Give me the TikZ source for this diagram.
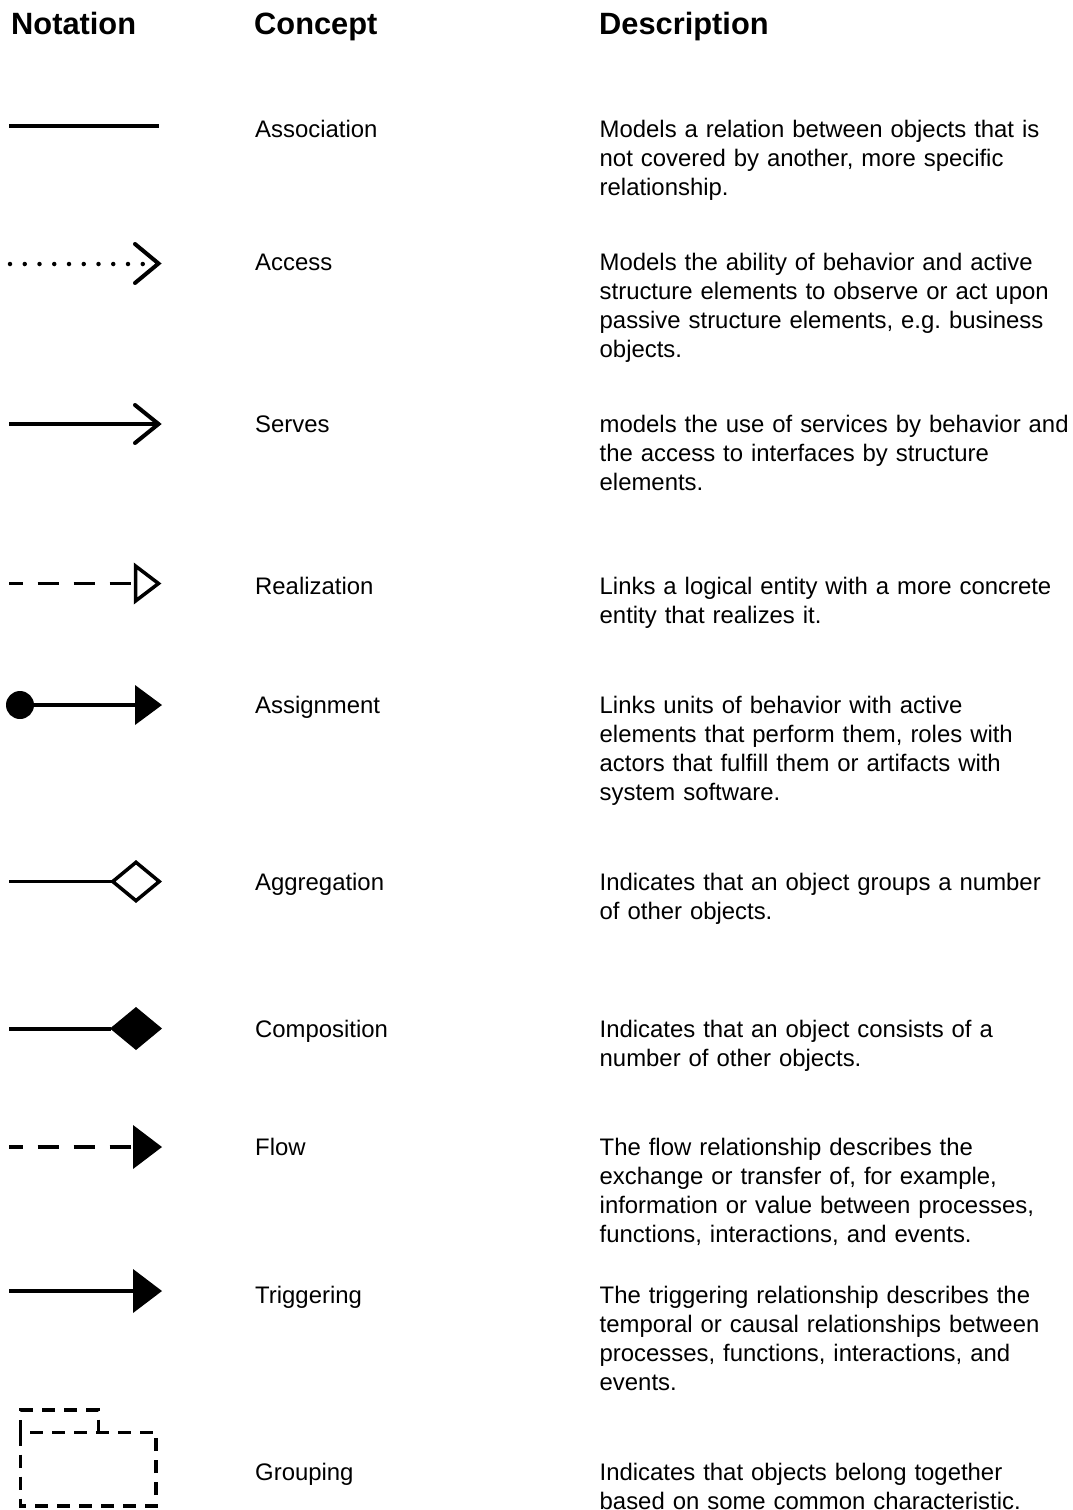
\documentclass[tikz,border=0pt]{standalone}
\usepackage{fontspec}
\setmainfont{Liberation Sans}
\frenchspacing
\begin{document}
\begin{tikzpicture}[x=1pt,y=-1pt,
  head/.style={font=\fontsize{30.8}{36}\selectfont\bfseries, anchor=base west, inner sep=0pt},
  concept/.style={font=\fontsize{23.9}{29}\selectfont, anchor=base west, inner sep=0pt},
  desc/.style={font=\fontsize{23.9}{29}\selectfont\frenchspacing, anchor=base west, inner sep=0pt,
               text width=480pt, align=left},
  rel/.style={line width=3.5pt},
  dotline/.style={line width=4.5pt, line cap=round, dash pattern=on 0pt off 14.75pt},
  dashline/.style={line width=3.5pt, dash pattern=on 21pt off 15pt, dash phase=7.6pt},
  chevron/.style={line width=4pt, line cap=round, line join=miter},
  openhead/.style={line width=3.5pt, line join=miter, fill=white},
  solidhead/.style={fill=black},
  groupline/.style={line width=3.5pt, dash pattern=on 13pt off 9pt}
]
\path[use as bounding box] (0,0) rectangle (1072,1510);

% column headings
\node[head] (hnot) at (11,34.3) {Notation};
\node[head] (hcon) at (254,34.3) {Concept};
\node[head] (hdes) at (599,34.3) {Description};

% ---- Association
\coordinate (as1) at (9,126);
\coordinate (as2) at (159,126);
\draw[rel] (as1) -- (as2);
\node[concept] (cas) at (255,137) {Association};
\node[desc] (das) at (599.5,137) {Models a relation between objects that is\\not covered by another, more specific\\relationship.};

% ---- Access
\coordinate (ac1) at (10,264);
\coordinate (ac2) at (146,264);
\coordinate (actip) at (158.5,263.5);
\draw[dotline] (ac1) -- (ac2);
\draw[chevron] (135,244) -- (actip) -- (135,283);
\node[concept] (cac) at (255,270) {Access};
\node[desc] (dac) at (599.5,270) {Models the ability of behavior and active\\structure elements to observe or act upon\\passive structure elements, e.g. business\\objects.};

% ---- Serves
\coordinate (se1) at (9,424);
\coordinate (setip) at (158.5,424);
\draw[rel] (se1) -- (setip);
\draw[chevron] (135,405) -- (setip) -- (135,443);
\node[concept] (cse) at (255,432) {Serves};
\node[desc] (dse) at (599.5,432) {models the use of services by behavior and\\the access to interfaces by structure\\elements.};

% ---- Realization
\coordinate (re1) at (9.3,583.5);
\coordinate (re2) at (135.5,583.5);
\draw[dashline] (re1) -- (re2);
\draw[openhead] (135.5,566) -- (158.5,583.5) -- (135.5,601) -- cycle;
\node[concept] (cre) at (255,594) {Realization};
\node[desc] (dre) at (599.5,594) {Links a logical entity with a more concrete\\entity that realizes it.};

% ---- Assignment
\coordinate (asg1) at (20,705);
\coordinate (asg2) at (136,705);
\draw[rel] (asg1) -- (asg2);
\fill (asg1) circle (14);
\fill[solidhead] (135,685) -- (162,705) -- (135,725) -- cycle;
\node[concept] (casg) at (255,713) {Assignment};
\node[desc] (dasg) at (599.5,713) {Links units of behavior with active\\elements that perform them, roles with\\actors that fulfill them or artifacts with\\system software.};

% ---- Aggregation
\coordinate (ag1) at (9,881.5);
\coordinate (ag2) at (112.75,881.5);
\draw[rel] (ag1) -- (ag2);
\draw[openhead] (112.75,881.5) -- (136,862.3) -- (159.25,881.5) -- (136,900.7) -- cycle;
\node[concept] (cag) at (255,890) {Aggregation};
\node[desc] (dag) at (599.5,890) {Indicates that an object groups a number\\of other objects.};

% ---- Composition
\coordinate (co1) at (9,1029);
\coordinate (co2) at (111,1029);
\draw[rel] (co1) -- (co2);
\fill[solidhead] (110,1028.5) -- (136,1007) -- (162,1028.5) -- (136,1050) -- cycle;
\node[concept] (cco) at (255,1037) {Composition};
\node[desc] (dco) at (599.5,1037) {Indicates that an object consists of a\\number of other objects.};

% ---- Flow
\coordinate (fl1) at (9.3,1147);
\coordinate (fl2) at (134,1147);
\draw[dashline] (fl1) -- (fl2);
\fill[solidhead] (133,1125) -- (162,1147) -- (133,1169) -- cycle;
\node[concept] (cfl) at (255,1155) {Flow};
\node[desc] (dfl) at (599.5,1155) {The flow relationship describes the\\exchange or transfer of, for example,\\information or value between processes,\\functions, interactions, and events.};

% ---- Triggering
\coordinate (tr1) at (9,1291);
\coordinate (tr2) at (134,1291);
\draw[rel] (tr1) -- (tr2);
\fill[solidhead] (133,1269) -- (162,1291) -- (133,1313) -- cycle;
\node[concept] (ctr) at (255,1303) {Triggering};
\node[desc] (dtr) at (599.5,1303) {The triggering relationship describes the\\temporal or causal relationships between\\processes, functions, interactions, and\\events.};

% ---- Grouping (folder outline)
\draw[groupline] (20.5,1432.5) -- (20.5,1410) -- (98.5,1410) -- (98.5,1432.5);
\draw[groupline] (20.5,1432.5) rectangle (156,1506);
\node[concept] (cgr) at (255,1480) {Grouping};
\node[desc] (dgr) at (599.5,1480) {Indicates that objects belong together\\based on some common characteristic.};
\end{tikzpicture}
\end{document}
